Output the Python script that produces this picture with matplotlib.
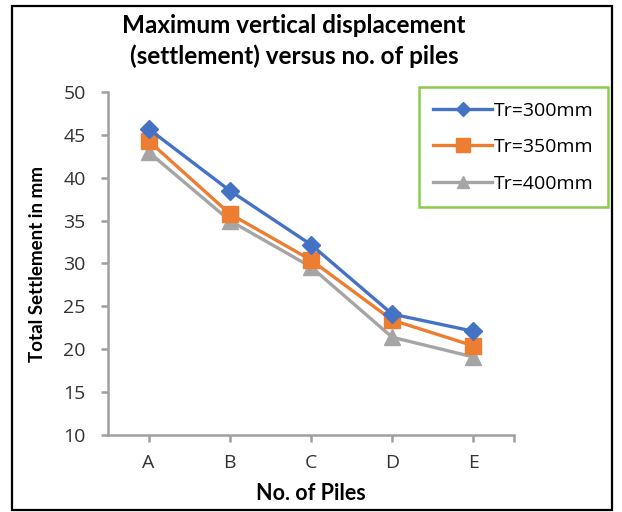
import matplotlib.pyplot as plt
from matplotlib.patches import Rectangle
import numpy as np

# categorias y datos
piles = ['A', 'B', 'C', 'D', 'E']
tr300 = [45.7, 38.5, 32.2, 24.1, 22.1]
tr350 = [44.3, 35.8, 30.4, 23.4, 20.4]
tr400 = [43.0, 35.0, 29.6, 21.4, 19.1]
labels = ['Tr=300mm', 'Tr=350mm', 'Tr=400mm']

W, H = 622, 512
fig = plt.figure(figsize=(W / 100, H / 100), dpi=100)
ax = fig.add_axes([108 / W, 1 - 435 / H, 406 / W, (435 - 92) / H])

x = np.arange(len(piles))
ax.plot(x, tr300, color='#4472C4', lw=2.4, marker='D', ms=9, label=labels[0], zorder=4)
ax.plot(x, tr350, color='#ED7D31', lw=2.4, marker='s', ms=12, label=labels[1], zorder=3)
ax.plot(x, tr400, color='#A5A5A5', lw=2.4, marker='^', ms=11, label=labels[2], zorder=2)

ax.set_xlim(-0.5, 4.5)
ax.set_ylim(10, 50)
ax.set_yticks(range(10, 51, 5))
ax.set_xticks(x)
ax.set_xticklabels(piles)
ax.set_xticks([4.5], minor=True)

for s in ['top', 'right']:
    ax.spines[s].set_visible(False)
for s in ['left', 'bottom']:
    ax.spines[s].set_color('#A0A0A0')
    ax.spines[s].set_linewidth(1.8)
ax.tick_params(axis='both', which='both', color='#A0A0A0', width=1.8, length=5,
               labelsize=14, labelcolor='#333333')
ax.tick_params(axis='x', pad=9)
ax.tick_params(axis='y', pad=11)
for t in ax.get_xticklabels() + ax.get_yticklabels():
    t.set_fontfamily('Open Sans')

ax.set_xlabel('No. of Piles', fontsize=15.5, fontweight='bold', family='Lato', va='center')
ax.set_ylabel('Total Settlement in mm', fontsize=13.5, fontweight='bold', family='Lato', va='center')
ax.xaxis.set_label_coords(0.5, -(493 - 435) / 343)
ax.yaxis.set_label_coords((37 - 108) / 406, 0.5)

fig.text(294 / W, 1 - 41 / H, 'Maximum vertical displacement\n(settlement) versus no. of piles',
         ha='center', va='center', fontsize=17.5, fontweight='bold', family='Lato',
         linespacing=1.35)

leg = ax.legend(loc='upper right', bbox_to_anchor=(608 / W, 1 - 87 / H),
                bbox_transform=fig.transFigure, fancybox=False, framealpha=1,
                edgecolor='#8DCB4E', prop={'family': 'Open Sans', 'size': 14},
                labelspacing=0.95, handlelength=3.0, handletextpad=0.1,
                borderpad=0.75, borderaxespad=0, markerscale=0.8)
leg.get_frame().set_linewidth(1.8)

fig.patches.append(Rectangle((12 / W, 2 / H), 600 / W, 504 / H, transform=fig.transFigure,
                             fill=False, edgecolor='black', linewidth=1.6))

fig.savefig('out.png', dpi=100)
